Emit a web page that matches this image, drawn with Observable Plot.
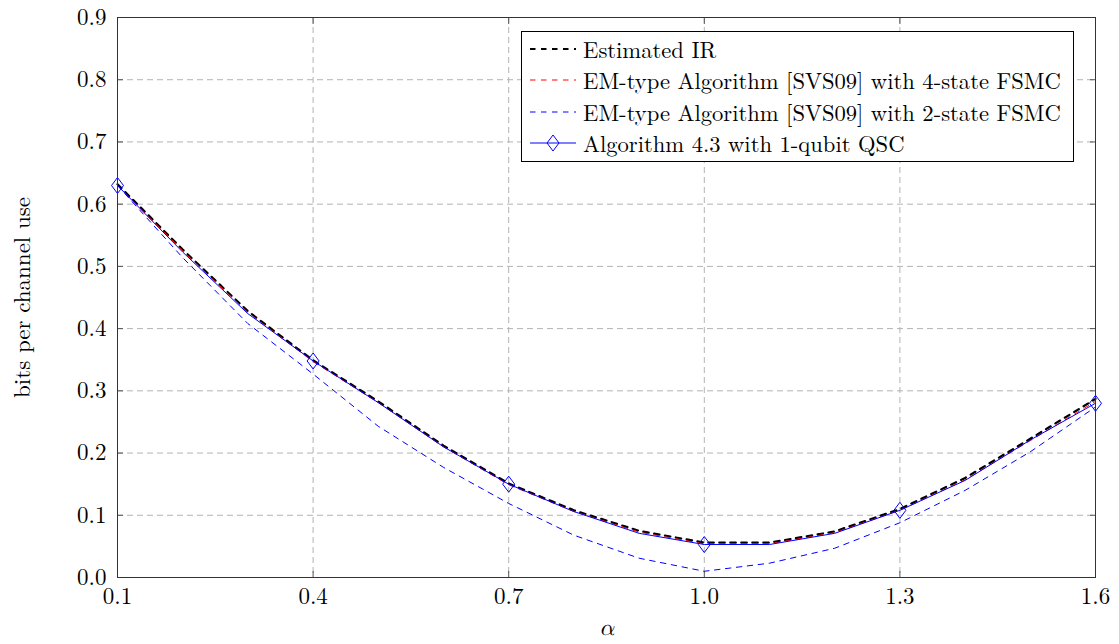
<!DOCTYPE html>
<html>
<head>
<meta charset="utf-8">
<script src="https://cdn.jsdelivr.net/npm/d3@7"></script>
<script src="https://cdn.jsdelivr.net/npm/@observablehq/plot@0.6"></script>
<style>
  body { margin: 0; background: #fff; }
  #wrap { position: relative; width: 1119px; height: 644px; }
  #legend { position: absolute; left: 521px; top: 31px; width: 551px; height: 129px; border: 1px solid #000; background: #fff; color: #000; }
  .row { position: absolute; left: 8px; height: 26px; display: flex; align-items: center; white-space: nowrap; }
  .row svg { margin-right: 7px; }
</style>
</head>
<body>
<div id="wrap"></div>
<script>
const alpha = [0.1, 0.2, 0.3, 0.4, 0.5, 0.6, 0.7, 0.8, 0.9, 1.0, 1.1, 1.2, 1.3, 1.4, 1.5, 1.6];
const estimatedIR = [0.632, 0.527, 0.428, 0.349, 0.283, 0.212, 0.151, 0.108, 0.075, 0.056, 0.056, 0.074, 0.110, 0.160, 0.223, 0.287];
const em4State   = [0.630, 0.525, 0.426, 0.347, 0.281, 0.210, 0.149, 0.106, 0.073, 0.054, 0.054, 0.072, 0.108, 0.157, 0.220, 0.283];
const em2State   = [0.630, 0.514, 0.408, 0.327, 0.243, 0.177, 0.119, 0.068, 0.031, 0.010, 0.023, 0.047, 0.088, 0.140, 0.202, 0.274];
const alg43      = [0.630, 0.523, 0.424, 0.348, 0.281, 0.210, 0.150, 0.106, 0.071, 0.053, 0.053, 0.071, 0.108, 0.156, 0.221, 0.280];
const markerAlpha = [0.1, 0.4, 0.7, 1.0, 1.3, 1.6];
const xTicks = [0.1, 0.4, 0.7, 1.0, 1.3, 1.6];
const yTicks = [0.0, 0.1, 0.2, 0.3, 0.4, 0.5, 0.6, 0.7, 0.8, 0.9];
const seriesNames = [
  "Estimated IR",
  "EM-type Algorithm [SVS09] with 4-state FSMC",
  "EM-type Algorithm [SVS09] with 2-state FSMC",
  "Algorithm 4.3 with 1-qubit QSC"
];
const xLabel = "α";
const yLabel = "bits per channel use";

const FONT = '"Latin Modern Roman", "Liberation Serif", "Times New Roman", serif';
const MATHFONT = '"Latin Modern Math", "Liberation Serif", "Times New Roman", serif';

const toRows = (ys) => alpha.map((a, i) => ({a, v: ys[i]}));
const markerRows = alpha.map((a, i) => ({a, v: alg43[i]})).filter(d => markerAlpha.some(m => Math.abs(m - d.a) < 1e-9));

const diamond = {
  draw(ctx, size) {
    const r = Math.sqrt(size / Math.PI);
    const w = r * 0.75;
    ctx.moveTo(0, -r); ctx.lineTo(w, 0); ctx.lineTo(0, r); ctx.lineTo(-w, 0); ctx.closePath();
  }
};

const dash = "5.5,5.5";
const chart = Plot.plot({
  width: 1119,
  height: 644,
  marginLeft: 117,
  marginRight: 24,
  marginTop: 17,
  marginBottom: 67,
  style: {fontSize: "23px", color: "#000", background: "#fff"},
  x: {domain: [0.1, 1.6]},
  y: {domain: [0, 0.9]},
  marks: [
    Plot.gridX(xTicks, {stroke: "#b3b3b3", strokeOpacity: 1, strokeDasharray: "6,4"}),
    Plot.gridY(yTicks, {stroke: "#b3b3b3", strokeOpacity: 1, strokeDasharray: "6,4"}),
    Plot.axisX(xTicks, {tickSize: 0, tickPadding: 10, tickFormat: d => d.toFixed(1), label: null, fontSize: 23}),
    Plot.axisY(yTicks, {tickSize: 0, tickPadding: 11, tickFormat: d => d.toFixed(1), label: null, fontSize: 23}),
    Plot.axisX(xTicks, {anchor: "bottom", tickSize: -6, text: null, label: null, stroke: "#555"}),
    Plot.axisX(xTicks, {anchor: "top", tickSize: -6, text: null, label: null, stroke: "#555"}),
    Plot.axisY(yTicks, {anchor: "left", tickSize: -6, text: null, label: null, stroke: "#555"}),
    Plot.axisY(yTicks, {anchor: "right", tickSize: -6, text: null, label: null, stroke: "#555"}),
    Plot.line(toRows(estimatedIR), {x: "a", y: "v", stroke: "#000", strokeWidth: 2.2, strokeDasharray: dash}),
    Plot.line(toRows(em4State), {x: "a", y: "v", stroke: "#ff0000", strokeWidth: 1, strokeDasharray: dash}),
    Plot.line(toRows(em2State), {x: "a", y: "v", stroke: "#0000ff", strokeWidth: 1, strokeDasharray: dash}),
    Plot.line(toRows(alg43), {x: "a", y: "v", stroke: "#0000ff", strokeWidth: 1}),
    Plot.dot(markerRows, {x: "a", y: "v", symbol: diamond, r: 8, stroke: "#0000ff", fill: "none", strokeWidth: 1}),
    Plot.frame({stroke: "#333", strokeWidth: 1}),
    Plot.text([xLabel], {text: d => d, frameAnchor: "bottom", dy: 57, fontStyle: "italic", fontSize: 23, fontFamily: MATHFONT}),
    Plot.text([yLabel], {text: d => d, frameAnchor: "left", textAnchor: "middle", dx: -95, rotate: -90, fontSize: 23})
  ]
});
chart.style.fontFamily = FONT;

const wrap = document.getElementById("wrap");
wrap.style.fontFamily = FONT;
wrap.appendChild(chart);

const legend = document.createElement("div");
legend.id = "legend";
legend.style.fontFamily = FONT;
legend.style.fontSize = "22.6px";
const swatches = [
  {stroke: "#000", width: 2.2, dash: "5.5,5.5", marker: false},
  {stroke: "#ff0000", width: 1, dash: "5.5,5.5", marker: false},
  {stroke: "#0000ff", width: 1, dash: "5.5,5.5", marker: false},
  {stroke: "#0000ff", width: 1, dash: null, marker: true}
];
seriesNames.forEach((name, i) => {
  const s = swatches[i];
  const row = document.createElement("div");
  row.className = "row";
  row.style.top = (4 + i * 31.3) + "px";
  const ns = "http://www.w3.org/2000/svg";
  const svg = document.createElementNS(ns, "svg");
  svg.setAttribute("width", 46); svg.setAttribute("height", 20);
  const line = document.createElementNS(ns, "line");
  line.setAttribute("x1", 0); line.setAttribute("x2", 46);
  line.setAttribute("y1", 10); line.setAttribute("y2", 10);
  line.setAttribute("stroke", s.stroke);
  line.setAttribute("stroke-width", s.width);
  if (s.dash) line.setAttribute("stroke-dasharray", s.dash);
  svg.appendChild(line);
  if (s.marker) {
    const p = document.createElementNS(ns, "path");
    p.setAttribute("d", "M23,2L29,10L23,18L17,10Z");
    p.setAttribute("fill", "none");
    p.setAttribute("stroke", s.stroke);
    svg.appendChild(p);
  }
  row.appendChild(svg);
  const t = document.createElement("span");
  t.textContent = name;
  row.appendChild(t);
  legend.appendChild(row);
});
wrap.appendChild(legend);
</script>
</body>
</html>
